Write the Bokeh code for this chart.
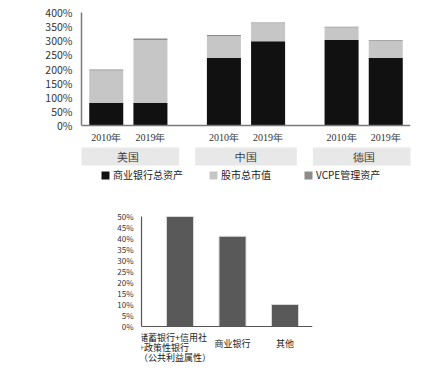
from bokeh.plotting import figure
from bokeh.models import (FactorRange, Range1d, LinearAxis, FixedTicker, NumeralTickFormatter,
                          Span, Legend, LegendItem, ColumnDataSource, Label)
from bokeh.embed import file_html
from bokeh.resources import INLINE

# ---------------- data ----------------
groups = ["美国", "中国", "德国"]
years = ["2010年", "2019年"]
bank_assets = [0.80, 0.80, 2.40, 2.98, 3.03, 2.40]
stock_cap = [1.15, 2.23, 0.76, 0.64, 0.44, 0.60]
vcpe_assets = [0.03, 0.05, 0.04, 0.03, 0.03, 0.03]
series_names = ["商业银行总资产", "股市总市值", "VCPE管理资产"]
top_ticks = [0, 0.5, 1.0, 1.5, 2.0, 2.5, 3.0, 3.5, 4.0]

bank_types = ["储蓄银行+信用社\n+政策性银行\n（公共利益属性）", "商业银行", "其他"]
bank_share = [0.50, 0.41, 0.10]
bottom_ticks = [0, 0.05, 0.10, 0.15, 0.20, 0.25, 0.30, 0.35, 0.40, 0.45, 0.50]

FONT = "Noto Sans CJK SC"
series_colors = ["#111111", "#c6c6c6", "#8c8c8c"]

# ---------------- top chart ----------------
PX = 28.25  # pixels per 100%
factors = [(g, y) for g in groups for y in years]
src = ColumnDataSource(dict(x=factors, bank=bank_assets, stock=stock_cap, vcpe=vcpe_assets,
                            year=[f[1] for f in factors]))

p = figure(width=412, height=190,
           x_range=FactorRange(*factors, group_padding=0.663, range_padding=0.06,
                               range_padding_units="absolute"),
           y_range=Range1d(-(190 - 125) / PX, 125 / PX),
           output_backend="svg", toolbar_location=None,
           x_axis_location=None, y_axis_location=None,
           min_border_left=81, min_border_right=2, min_border_top=0, min_border_bottom=0)
p.grid.visible = False
p.outline_line_color = None

band_src = ColumnDataSource(dict(
    left=[(g, years[0], -0.65) for g in groups],
    right=[(g, years[-1], 0.65) for g in groups],
    mid=[(g, years[0], 0.5) for g in groups],
    name=groups))
p.quad(left="left", right="right", bottom=-(165 - 125) / PX, top=-(147 - 125) / PX,
       source=band_src, fill_color="#e8e8e8", line_color=None)
p.text(x="mid", y=-(156 - 125) / PX, text="name", source=band_src,
       text_font=FONT, text_font_size="11px", text_color="#333333",
       text_align="center", text_baseline="middle")

renderers = p.vbar_stack(["bank", "stock", "vcpe"], x="x", width=0.77, source=src,
                         fill_color=series_colors, line_color=None)

p.text(x="x", y=-(137 - 125) / PX, text="year", source=src,
       text_font=FONT, text_font_size="10px", text_color="#333333",
       text_align="center", text_baseline="middle")

p.add_layout(Span(location=0, dimension="width", line_color="#7a7a7a", line_width=1.5))

yax = LinearAxis(ticker=FixedTicker(ticks=top_ticks), formatter=NumeralTickFormatter(format="0%"),
                 bounds=(0, 4.0), major_tick_line_color=None, minor_tick_line_color=None,
                 axis_line_color="#7a7a7a", axis_line_width=1.5,
                 major_label_text_font=FONT, major_label_text_font_size="10.5px",
                 major_label_text_color="#333333", major_label_standoff=3)
p.add_layout(yax, "left")

for r, name, lx in zip(renderers, series_names, [19, 127, 222]):
    lg = Legend(items=[LegendItem(label=name, renderers=[r])], location=(lx, 8),
                orientation="horizontal", padding=0, margin=0, spacing=0,
                glyph_width=10, glyph_height=10, label_height=10, label_standoff=3,
                label_text_font=FONT, label_text_font_size="10px", label_text_color="#222222",
                border_line_color=None, background_fill_alpha=0)
    p.add_layout(lg, "center")

# ---------------- bottom chart ----------------
PXB = 220.0  # pixels per 100%
xpos = list(range(len(bank_types)))
bsrc = ColumnDataSource(dict(x=xpos, share=bank_share))

q = figure(width=322, height=179,
           x_range=Range1d(-38.5 / 52.5, (len(bank_types) - 1) + 27.5 / 52.5),
           y_range=Range1d(-(369 - 326) / PXB, 0.5 + (216 - 190) / PXB),
           output_backend="svg", toolbar_location=None,
           x_axis_location=None, y_axis_location=None,
           min_border_left=141, min_border_right=10, min_border_top=0, min_border_bottom=0)
q.grid.visible = False
q.outline_line_color = None

q.vbar(x="x", top="share", width=27 / 52.5, source=bsrc,
       fill_color="#595959", line_color="#d8d8d8", line_width=1)
q.add_layout(Span(location=0, dimension="width", line_color="#555555", line_width=1.2))

yax2 = LinearAxis(ticker=FixedTicker(ticks=bottom_ticks), formatter=NumeralTickFormatter(format="0%"),
                  bounds=(0, 0.5), major_tick_line_color=None, minor_tick_line_color=None,
                  axis_line_color="#555555", axis_line_width=1.2,
                  major_label_text_font=FONT, major_label_text_font_size="8px",
                  major_label_text_color="#333333", major_label_standoff=2)
q.add_layout(yax2, "left")

for xi, name in zip(xpos, bank_types):
    if "\n" in name:
        lab = Label(x=xi, y=-(330 - 326) / PXB, text=name, x_offset=-41,
                    text_align="left", text_baseline="top", text_line_height=0.77,
                    text_font=FONT, text_font_size="9px", text_color="#222222")
    else:
        lab = Label(x=xi, y=-(343 - 326) / PXB, text=name,
                    text_align="center", text_baseline="middle",
                    text_font=FONT, text_font_size="9px", text_color="#222222")
    q.add_layout(lab)

open("out.html", "w").write(file_html([p, q], INLINE))
